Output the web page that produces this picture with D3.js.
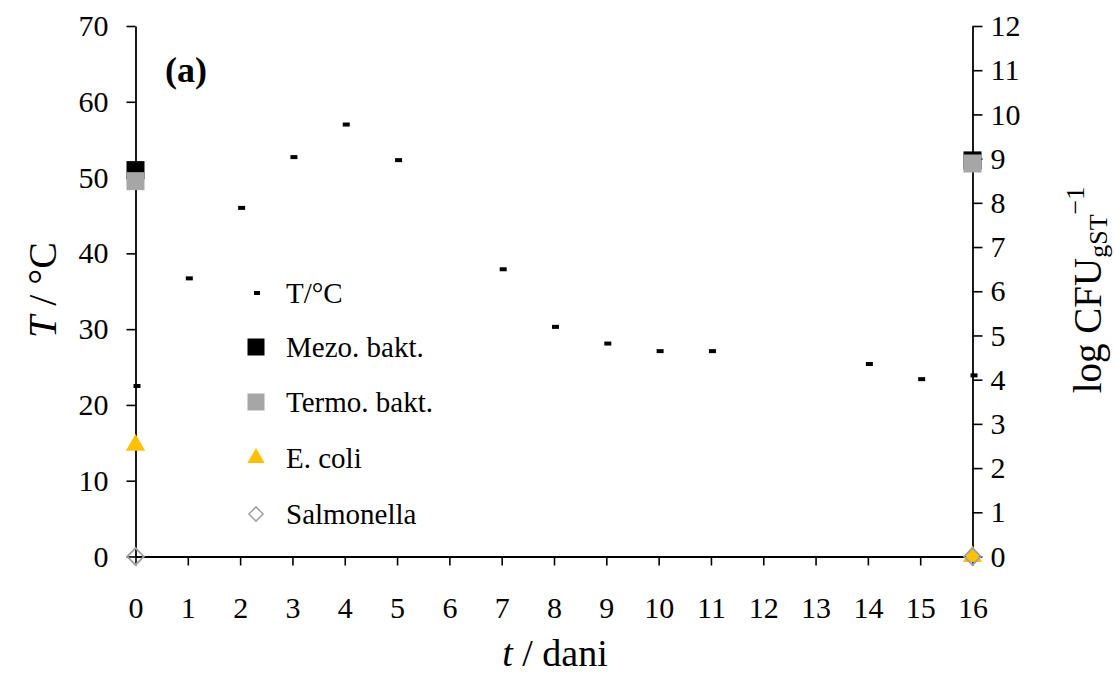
<!DOCTYPE html>
<html><head><meta charset="utf-8">
<script src="https://cdn.jsdelivr.net/npm/d3@7"></script>
<style>body{margin:0;background:#fff}svg{display:block}text{font-family:"Liberation Serif","Times New Roman",serif;fill:#000}</style>
</head><body>
<svg id="c" width="1115" height="675"></svg>
<script>
const days = [0,1,2,3,4,5,7,8,9,10,11,14,15,16];
const temps = [22.5,36.7,46.0,52.7,57.0,52.3,37.9,30.3,28.1,27.1,27.1,25.4,23.4,23.9];
const cfuDays = [0,16];
const mezo = [8.74,8.96];
const termo = [8.49,8.89];
const ecoli = [2.52,0];
const salmonella = [0,0];
const xTicks = [0,1,2,3,4,5,6,7,8,9,10,11,12,13,14,15,16];
const yLeftTicks = [0,10,20,30,40,50,60,70];
const yRightTicks = [0,1,2,3,4,5,6,7,8,9,10,11,12];
const legendLabels = ["T/°C","Mezo. bakt.","Termo. bakt.","E. coli","Salmonella"];

const svg = d3.select("#c");
const L=135.5,R=972.5,T=26,B=556.5;
const x = d3.scaleLinear().domain([0,16]).range([L,R]);
const yL = d3.scaleLinear().domain([0,70]).range([B,T]);
const yR = d3.scaleLinear().domain([0,12]).range([B,T]);

const axStyle = g=>{g.attr("font-family",null).attr("font-size",null);
  g.selectAll("path,line").attr("stroke","#000").attr("stroke-width",1.6);
  g.select(".domain").attr("stroke-width",1.8).attr("fill","none");
  g.selectAll("text").attr("font-size",30).attr("font-family","Liberation Serif");};

svg.append("g").attr("transform",`translate(0,${B})`)
  .call(d3.axisBottom(x).tickValues(xTicks).tickSizeInner(9).tickSizeOuter(0).tickPadding(31))
  .call(axStyle);
svg.append("g").attr("transform",`translate(${L},0)`)
  .call(d3.axisLeft(yL).tickValues(yLeftTicks).tickSizeInner(9).tickSizeOuter(0).tickPadding(18))
  .call(axStyle);
svg.append("g").attr("transform",`translate(${R},0)`)
  .call(d3.axisRight(yR).tickValues(yRightTicks).tickSizeInner(10).tickSizeOuter(0).tickPadding(8))
  .call(axStyle);

// T markers
svg.append("g").selectAll("rect").data(days).join("rect")
  .attr("x",(d)=>x(d)-2).attr("y",(d,i)=>yL(temps[i])-2).attr("width",7).attr("height",4).attr("fill","#000");

const sq=18;
const g2=svg.append("g");
g2.selectAll(".m").data(cfuDays).join("rect").attr("x",d=>x(d)-sq/2).attr("y",(d,i)=>yR(mezo[i])-sq/2).attr("width",sq).attr("height",sq).attr("fill","#000");
g2.selectAll(".t").data(cfuDays).join("rect").attr("class","t").attr("x",d=>x(d)-sq/2).attr("y",(d,i)=>yR(termo[i])-sq/2).attr("width",sq).attr("height",sq).attr("fill","#a6a6a6");
const tri = d3.symbol().type(d3.symbolTriangle).size(160);
g2.selectAll(".e").data(cfuDays).join("path").attr("class","e").attr("d",tri).attr("transform",(d,i)=>`translate(${x(d)},${yR(ecoli[i])})`).attr("fill","#ffc000");
const dia = d3.symbol().type(d3.symbolSquare).size(140);
g2.selectAll(".s").data(cfuDays).join("path").attr("class","s").attr("d",dia).attr("transform",(d,i)=>`translate(${x(d)},${yR(salmonella[i])}) rotate(45)`).attr("fill","none").attr("stroke","#a0a0a0").attr("stroke-width",1.8);

// legend
const lx=256, ly=[293,347,402,458,514];
const lg=svg.append("g");
lg.append("rect").attr("x",lx-2).attr("y",ly[0]-2).attr("width",6).attr("height",4).attr("fill","#000");
lg.append("rect").attr("x",lx-8.5).attr("y",ly[1]-8.5).attr("width",17).attr("height",17).attr("fill","#000");
lg.append("rect").attr("x",lx-8.5).attr("y",ly[2]-8.5).attr("width",17).attr("height",17).attr("fill","#a6a6a6");
lg.append("path").attr("d",d3.symbol().type(d3.symbolTriangle).size(130)).attr("transform",`translate(${lx},${ly[3]})`).attr("fill","#ffc000");
lg.append("path").attr("d",d3.symbol().type(d3.symbolSquare).size(100)).attr("transform",`translate(${lx},${ly[4]}) rotate(45)`).attr("fill","none").attr("stroke","#a0a0a0").attr("stroke-width",1.5);
lg.selectAll("text").data(legendLabels).join("text").attr("x",286).attr("y",(d,i)=>ly[i]).attr("dy","0.35em").attr("font-size",29).text(d=>d);

// (a)
svg.append("text").attr("x",165).attr("y",82).attr("font-size",36).attr("font-weight","bold").text("(a)");

// axis titles
const xt=svg.append("text").attr("x",555).attr("y",666).attr("text-anchor","middle").attr("font-size",38);
xt.append("tspan").attr("font-style","italic").text("t");
xt.append("tspan").text(" / dani");

const yt=svg.append("text").attr("transform","translate(56,290) rotate(-90)").attr("text-anchor","middle").attr("font-size",40);
yt.append("tspan").attr("font-style","italic").text("T");
yt.append("tspan").text(" / °C");

const rt=svg.append("text").attr("transform","translate(1101,290) rotate(-90)").attr("text-anchor","middle").attr("font-size",39);
rt.append("tspan").text("log CFU");
rt.append("tspan").attr("font-size",26).attr("dy",6).text("gST");
rt.append("tspan").attr("font-size",26).attr("dy",-23).text("−1");
</script>
</body></html>
